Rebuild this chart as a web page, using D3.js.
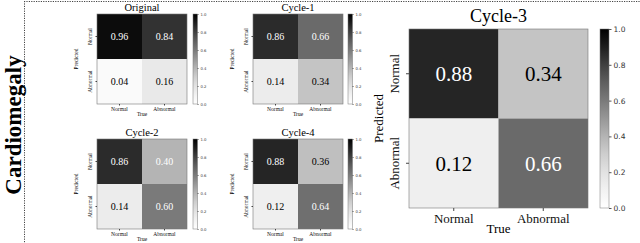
<!DOCTYPE html>
<html><head><meta charset="utf-8">
<script src="https://cdn.jsdelivr.net/npm/d3@7"></script>
<style>body{margin:0;background:#fff}svg{display:block}</style>
</head><body>
<svg id="c" width="640" height="243"></svg>
<script>
const rowLabel = "Cardiomegaly";
const classes = ["Normal", "Abnormal"];
const panelTitles = ["Original", "Cycle-1", "Cycle-2", "Cycle-4", "Cycle-3"];
const originalValues = [[0.96, 0.84], [0.04, 0.16]];
const cycle1Values = [[0.86, 0.66], [0.14, 0.34]];
const cycle2Values = [[0.86, 0.40], [0.14, 0.60]];
const cycle4Values = [[0.88, 0.36], [0.12, 0.64]];
const cycle3Values = [[0.88, 0.34], [0.12, 0.66]];
const colorbarTicks = [0.0, 0.2, 0.4, 0.6, 0.8, 1.0];

const svg = d3.select("#c");
const serif = "'Liberation Serif','Times New Roman',serif";
const sans = "'DejaVu Sans',sans-serif";
const color = d3.scaleSequential(d3.interpolateGreys).domain([0, 1]);

// dotted frame
svg.append("line").attr("x1", 24).attr("x2", 640).attr("y1", 1.5).attr("y2", 1.5)
  .attr("stroke", "#444").attr("stroke-width", 1).attr("stroke-dasharray", "1.2,1.2");
svg.append("line").attr("x1", 24.5).attr("x2", 24.5).attr("y1", 1).attr("y2", 243)
  .attr("stroke", "#444").attr("stroke-width", 1).attr("stroke-dasharray", "1.2,1.2");

svg.append("text").attr("transform", "translate(20.8,125) rotate(-90)")
  .attr("text-anchor", "middle").attr("font-family", serif).attr("font-weight", "bold")
  .attr("font-size", 23).attr("fill", "#000").text(rowLabel);

const defs = svg.append("defs");
const grad = defs.append("linearGradient").attr("id", "cbg")
  .attr("x1", 0).attr("x2", 0).attr("y1", 1).attr("y2", 0);
d3.range(0, 1.0001, 0.1).forEach(t => grad.append("stop").attr("offset", t).attr("stop-color", color(t)));

function drawMatrix(o) {
  const g = svg.append("g");
  const x = d3.scaleBand().domain(classes).range([o.x, o.x + o.size]);
  const y = d3.scaleBand().domain(classes).range([o.y, o.y + o.size]);
  const cells = [];
  classes.forEach((p, i) => classes.forEach((t, j) => cells.push({p, t, v: o.values[i][j]})));
  g.selectAll("rect.cell").data(cells).enter().append("rect")
    .attr("x", d => x(d.t)).attr("y", d => y(d.p))
    .attr("width", x.bandwidth()).attr("height", y.bandwidth())
    .attr("fill", d => color(d.v));
  g.append("rect").attr("x", o.x).attr("y", o.y).attr("width", o.size).attr("height", o.size)
    .attr("fill", "none").attr("stroke", "#777").attr("stroke-width", 0.6);
  g.selectAll("text.val").data(cells).enter().append("text")
    .attr("x", d => x(d.t) + x.bandwidth() / 2).attr("y", d => y(d.p) + y.bandwidth() / 2)
    .attr("dy", "0.35em").attr("text-anchor", "middle")
    .attr("font-family", serif).attr("font-size", o.valFont)
    .attr("fill", d => d.v > 0.38 ? "#fff" : "#000").text(d => d.v.toFixed(2));
  // title
  g.append("text").attr("x", o.x + o.size / 2).attr("y", o.y - o.titleGap)
    .attr("text-anchor", "middle").attr("font-family", serif).attr("font-size", o.titleFont)
    .text(o.title);
  // x axis
  const xa = g.append("g").attr("transform", `translate(0,${o.y + o.size})`)
    .call(d3.axisBottom(x).tickSize(o.tick).tickPadding(o.tickPad));
  xa.select(".domain").remove();
  xa.selectAll("line").attr("stroke", "#444");
  xa.selectAll("text").attr("font-family", serif).attr("font-size", o.tickFont).attr("fill", "#111");
  // y axis
  const ya = g.append("g").attr("transform", `translate(${o.x},0)`)
    .call(d3.axisLeft(y).tickSize(o.tick).tickPadding(o.tickPad));
  ya.select(".domain").remove();
  ya.selectAll("line").attr("stroke", "#444");
  ya.selectAll("text").attr("font-family", serif).attr("font-size", o.tickFont).attr("fill", "#111")
    .attr("text-anchor", "middle").attr("x", 0).attr("dy", 0)
    .attr("transform", `translate(${-o.tick - o.tickPad - o.tickFont * 0.3},0) rotate(-90)`);
  // axis titles
  g.append("text").attr("x", o.x + o.size / 2).attr("y", o.y + o.size + o.trueGap)
    .attr("text-anchor", "middle").attr("font-family", serif).attr("font-size", o.labFont).text("True");
  g.append("text").attr("transform", `translate(${o.x - o.predGap},${o.y + o.size / 2}) rotate(-90)`)
    .attr("text-anchor", "middle").attr("font-family", serif).attr("font-size", o.labFont).text("Predicted");
  // colorbar
  const cy = d3.scaleLinear().domain([0, 1]).range([o.y + o.size, o.y]);
  g.append("rect").attr("x", o.cbX).attr("y", o.y).attr("width", o.cbW).attr("height", o.size)
    .attr("fill", "url(#cbg)").attr("stroke", "#777").attr("stroke-width", 0.5);
  const ca = g.append("g").attr("transform", `translate(${o.cbX + o.cbW},0)`)
    .call(d3.axisRight(cy).tickValues(colorbarTicks).tickFormat(d3.format(".1f"))
      .tickSize(o.cbTick).tickPadding(o.cbPad));
  ca.select(".domain").remove();
  ca.selectAll("line").attr("stroke", "#555");
  ca.selectAll("text").attr("font-family", sans).attr("font-size", o.cbFont).attr("fill", "#333");
}

const small = {size: 90, valFont: 10, titleFont: 10.5, titleGap: 3, tick: 1.5, tickPad: 2,
  tickFont: 5.5, labFont: 5.5, trueGap: 12, predGap: 19, cbW: 4.5, cbTick: 1, cbPad: 2, cbFont: 3.8};
drawMatrix(Object.assign({}, small, {x: 97, y: 14, title: panelTitles[0], values: originalValues, cbX: 193}));
drawMatrix(Object.assign({}, small, {x: 253, y: 14, title: panelTitles[1], values: cycle1Values, cbX: 348}));
drawMatrix(Object.assign({}, small, {x: 97, y: 139, title: panelTitles[2], values: cycle2Values, cbX: 193}));
drawMatrix(Object.assign({}, small, {x: 253, y: 139, title: panelTitles[3], values: cycle4Values, cbX: 348}));
drawMatrix({x: 409, y: 29, size: 179, title: panelTitles[4], values: cycle3Values, valFont: 21,
  titleFont: 18, titleGap: 7, tick: 3, tickPad: 3, tickFont: 13, labFont: 13, trueGap: 25, predGap: 26,
  cbX: 600, cbW: 9, cbTick: 2.5, cbPad: 2, cbFont: 7.5});
</script>
</body></html>
